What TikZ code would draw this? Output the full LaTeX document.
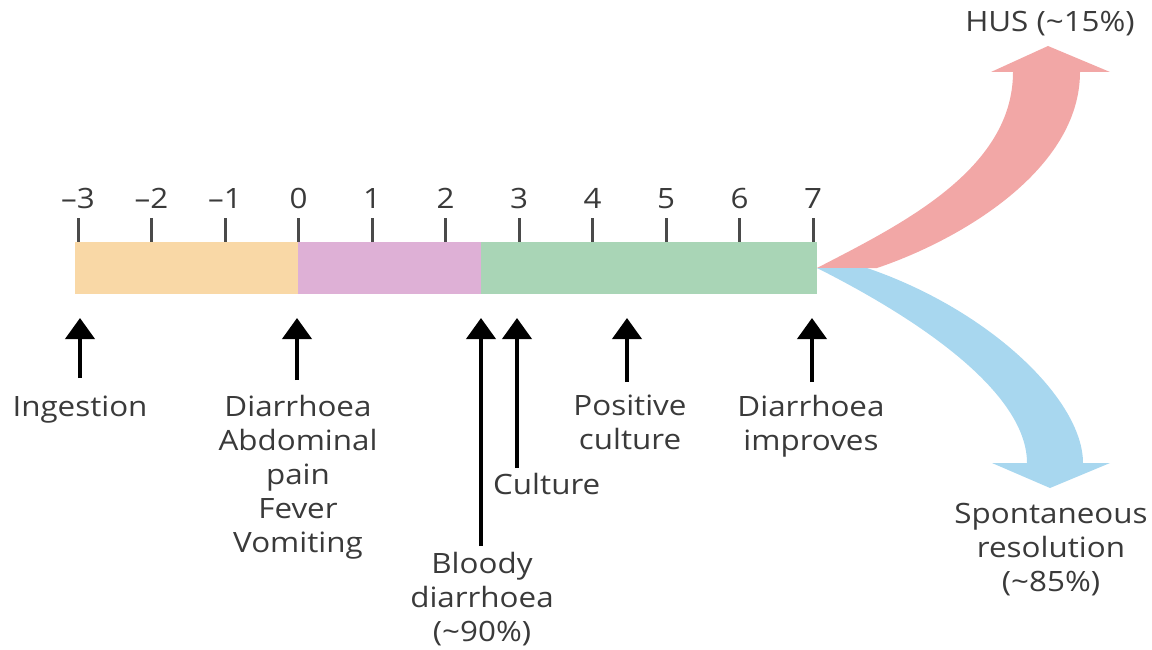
\documentclass[tikz,border=0pt]{standalone}
\usepackage{fontspec}
\setmainfont{Open Sans}[FakeStretch=1.12]
\usetikzlibrary{arrows.meta}
\definecolor{txt}{HTML}{3A3A3A}
\definecolor{tickc}{HTML}{4A4A4A}
\definecolor{barorange}{HTML}{F9D8A6}
\definecolor{barpink}{HTML}{DEB0D6}
\definecolor{bargreen}{HTML}{A9D5B6}
\definecolor{redarr}{HTML}{F2A7A6}
\definecolor{bluearr}{HTML}{A8D7EF}
\tikzset{
  lbl/.style={font=\fontsize{28}{34}\selectfont, text=txt, inner sep=0pt, align=center},
  tickline/.style={draw=tickc, line width=3pt},
  uparr/.style={draw=black, line width=4pt, -{Triangle[width=29pt,length=21pt]}},
}
\begin{document}
\begin{tikzpicture}[x=1pt,y=-1pt]
\useasboundingbox (0,0) rectangle (1152,650);
% coloured bar
\fill[barorange] (75,242) rectangle (298,294);
\fill[barpink] (298,242) rectangle (481,294);
\fill[bargreen] (481,242) rectangle (817,294);
% ticks and day labels
\foreach \i/\lab in {0/–3,1/–2,2/–1,3/0,4/1,5/2,6/3,7/4,8/5,9/6,10/7}{
  \draw[tickline] ({78+73.5*\i},218) -- ({78+73.5*\i},242);
  \node[lbl,anchor=base] (d\i) at ({78+73.5*\i},208) {\lab};
}
% outcome arrows
\coordinate (J) at (817,268);
\fill[redarr] (J) .. controls (900,225) and (1013,170) .. (1013,72)
  -- (991,72) -- (1048,46) -- (1110,72) -- (1080,72)
  .. controls (1080,170) and (960,240) .. (877,268) -- cycle;
\fill[bluearr] (J) -- (867,268) .. controls (990,310) and (1083,400) .. (1083,463)
  -- (1110,463) -- (1050,488) -- (992,463) -- (1027,463)
  .. controls (1027,400) and (940,330) .. (J) -- cycle;
\node[lbl,anchor=base] (hus) at (1050,32) {HUS (\textasciitilde15\%)};
\node[lbl,anchor=north] (spont) at (1051,503.5) {Spontaneous\\resolution\\(\textasciitilde85\%)};
% event arrows
\coordinate (a1s) at (80,378);  \coordinate (a1t) at (80,318);
\coordinate (a2s) at (297,380); \coordinate (a2t) at (297,318);
\coordinate (a3s) at (481,546); \coordinate (a3t) at (481,318);
\coordinate (a4s) at (517,468); \coordinate (a4t) at (517,318);
\coordinate (a5s) at (627,382); \coordinate (a5t) at (627,318);
\coordinate (a6s) at (812,382); \coordinate (a6t) at (812,318);
\foreach \k in {1,...,6}{ \draw[uparr] (a\k s) -- (a\k t); }
% event labels
\node[lbl,anchor=base] (ing) at (80,416) {Ingestion};
\node[lbl,anchor=north] (sym) at (298,394.7) {Diarrhoea\\Abdominal\\pain\\Fever\\Vomiting};
\node[lbl,anchor=north] (bloody) at (482,552) {Bloody\\diarrhoea\\(\textasciitilde90\%)};
\node[lbl,anchor=base west] (cult) at (493,494) {Culture};
\node[lbl,anchor=north] (pos) at (630,394.7) {Positive\\culture};
\node[lbl,anchor=north] (impr) at (811,394.7) {Diarrhoea\\improves};
\end{tikzpicture}
\end{document}
